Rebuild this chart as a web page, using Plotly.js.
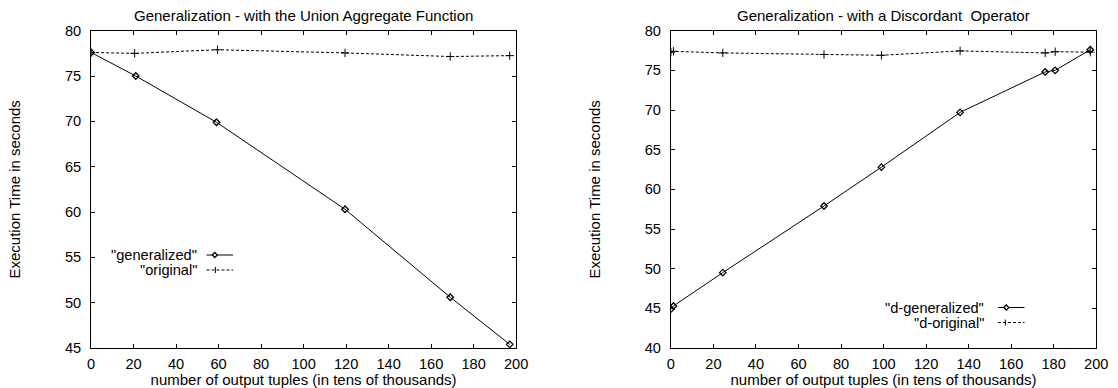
<!DOCTYPE html>
<html>
<head>
<meta charset="utf-8">
<script src="https://cdn.plot.ly/plotly-3.0.1.min.js"></script>
<style>html,body{margin:0;padding:0;background:#fff}#chart{width:1118px;height:388px}</style>
</head>
<body>
<div id="chart"></div>
<script>
// Left chart: Union Aggregate Function
const leftTitle = "Generalization - with the Union Aggregate Function";
const genX = [0, 21, 59, 119.5, 169, 197];
const genY = [77.6, 75.0, 69.9, 60.3, 50.6, 45.4];
const origX = [0, 20.5, 59.5, 119.5, 169, 197];
const origY = [77.6, 77.5, 77.9, 77.55, 77.15, 77.25];

// Right chart: Discordant Operator
const rightTitle = "Generalization - with a Discordant  Operator";
const dGenX = [0, 1.2, 24.4, 72, 99, 136, 176, 180.7, 197.2];
const dGenY = [44.9, 45.3, 49.5, 57.9, 62.8, 69.7, 74.8, 75.0, 77.6];
const dOrigX = [0, 1.2, 24.4, 72, 99, 136, 176, 180.7, 197.2];
const dOrigY = [77.3, 77.4, 77.2, 77.0, 76.9, 77.45, 77.2, 77.35, 77.3];

const xTitle = "number of output tuples (in tens of thousands)";
const yTitle = "Execution Time in seconds";
const legendLeft = ['"generalized"', '"original"'];
const legendRight = ['"d-generalized"', '"d-original"'];

const FAM = "Liberation Sans, Arial, Helvetica, sans-serif";
const FONT = {family: FAM, size: 14.6, color: "#000"};
const TFONT = {family: FAM, size: 15, color: "#000"};
const W = 1118, H = 388;
const px = v => v / W;
const py = v => 1 - v / H;

const genStyle = {mode: "lines+markers", line: {color: "#000", width: 1},
  marker: {symbol: "diamond-open", size: 5, color: "#000", line: {width: 1.3, color: "#000"}}, showlegend: false};
const origStyle = {mode: "lines+markers", line: {color: "#000", width: 1, dash: "3px,2px"},
  marker: {symbol: "cross-thin-open", size: 6, color: "#000", line: {width: 1, color: "#000"}}, showlegend: false};

const traces = [
  Object.assign({x: genX, y: genY, name: legendLeft[0], xaxis: "x", yaxis: "y"}, genStyle),
  Object.assign({x: origX, y: origY, name: legendLeft[1], xaxis: "x", yaxis: "y"}, origStyle),
  Object.assign({x: dGenX, y: dGenY, name: legendRight[0], xaxis: "x2", yaxis: "y2"}, genStyle),
  Object.assign({x: dOrigX, y: dOrigY, name: legendRight[1], xaxis: "x2", yaxis: "y2"}, origStyle)
];

function xAxis(domain, anchor) {
  return {domain: domain, anchor: anchor, range: [0, 200], dtick: 20, tick0: 0,
    ticks: "inside", ticklen: 4, tickcolor: "#000", mirror: "allticks", showline: true,
    linecolor: "#000", linewidth: 1, showgrid: false, zeroline: false, tickfont: FONT,
    ticklabelstandoff: 2,
    title: {text: xTitle, font: TFONT, standoff: 0}, fixedrange: true};
}
function yAxis(domain, anchor, range) {
  return {domain: domain, anchor: anchor, range: range, dtick: 5, tick0: 0,
    ticks: "inside", ticklen: 4, tickcolor: "#000", mirror: "allticks", showline: true,
    linecolor: "#000", linewidth: 1, showgrid: false, zeroline: false, tickfont: FONT,
    ticklabelstandoff: 6,
    title: {text: yTitle, font: TFONT, standoff: 40}, fixedrange: true};
}

const yDom = [py(348), py(30.7)];
const layout = {
  width: W, height: H, margin: {l: 0, r: 0, t: 0, b: 0},
  paper_bgcolor: "#fff", plot_bgcolor: "#fff", font: FONT, showlegend: false,
  xaxis: xAxis([px(91.1), px(516.1)], "y"),
  yaxis: yAxis(yDom, "x", [45, 80]),
  xaxis2: xAxis([px(670.9), px(1096.2)], "y2"),
  yaxis2: yAxis(yDom, "x2", [40, 80]),
  annotations: [
    {text: leftTitle, x: px(303.8), y: py(15.2), xref: "paper", yref: "paper", showarrow: false, font: TFONT, xanchor: "center", yanchor: "middle"},
    {text: rightTitle, x: px(883.3), y: py(15.2), xref: "paper", yref: "paper", showarrow: false, font: TFONT, xanchor: "center", yanchor: "middle"},
    {text: legendLeft[0], x: px(199), y: py(255), xref: "paper", yref: "paper", showarrow: false, font: FONT, xanchor: "right", yanchor: "middle"},
    {text: legendLeft[1], x: px(199), y: py(270), xref: "paper", yref: "paper", showarrow: false, font: FONT, xanchor: "right", yanchor: "middle"},
    {text: legendRight[0], x: px(986), y: py(307.5), xref: "paper", yref: "paper", showarrow: false, font: FONT, xanchor: "right", yanchor: "middle"},
    {text: legendRight[1], x: px(986), y: py(322.5), xref: "paper", yref: "paper", showarrow: false, font: FONT, xanchor: "right", yanchor: "middle"}
  ],
  shapes: []
};

// legend key samples (decoration)
function keySample(x0, x1, y, dashed, sym, cx) {
  layout.shapes.push({type: "line", xref: "paper", yref: "paper", x0: px(x0), x1: px(x1), y0: py(y), y1: py(y),
    line: {color: "#000", width: 1, dash: dashed ? "3px,2px" : "solid"}});
  if (sym === "diamond") {
    layout.shapes.push({type: "path", xref: "paper", yref: "paper",
      path: `M ${px(cx-2.5)} ${py(y)} L ${px(cx)} ${py(y-2.5)} L ${px(cx+2.5)} ${py(y)} L ${px(cx)} ${py(y+2.5)} Z`,
      fillcolor: "#fff", line: {color: "#000", width: 1.3}});
  } else {
    layout.shapes.push({type: "line", xref: "paper", yref: "paper", x0: px(cx), x1: px(cx), y0: py(y-3), y1: py(y+3), line: {color: "#000", width: 1}});
  }
}
keySample(206.5, 233, 255, false, "diamond", 214.8);
keySample(206.5, 233, 270, true, "plus", 215.4);
keySample(998, 1024.5, 307.5, false, "diamond", 1006.3);
keySample(998, 1024.5, 322.5, true, "plus", 1005.3);

Plotly.newPlot("chart", traces, layout, {displayModeBar: false, staticPlot: true});
</script>
</body>
</html>
